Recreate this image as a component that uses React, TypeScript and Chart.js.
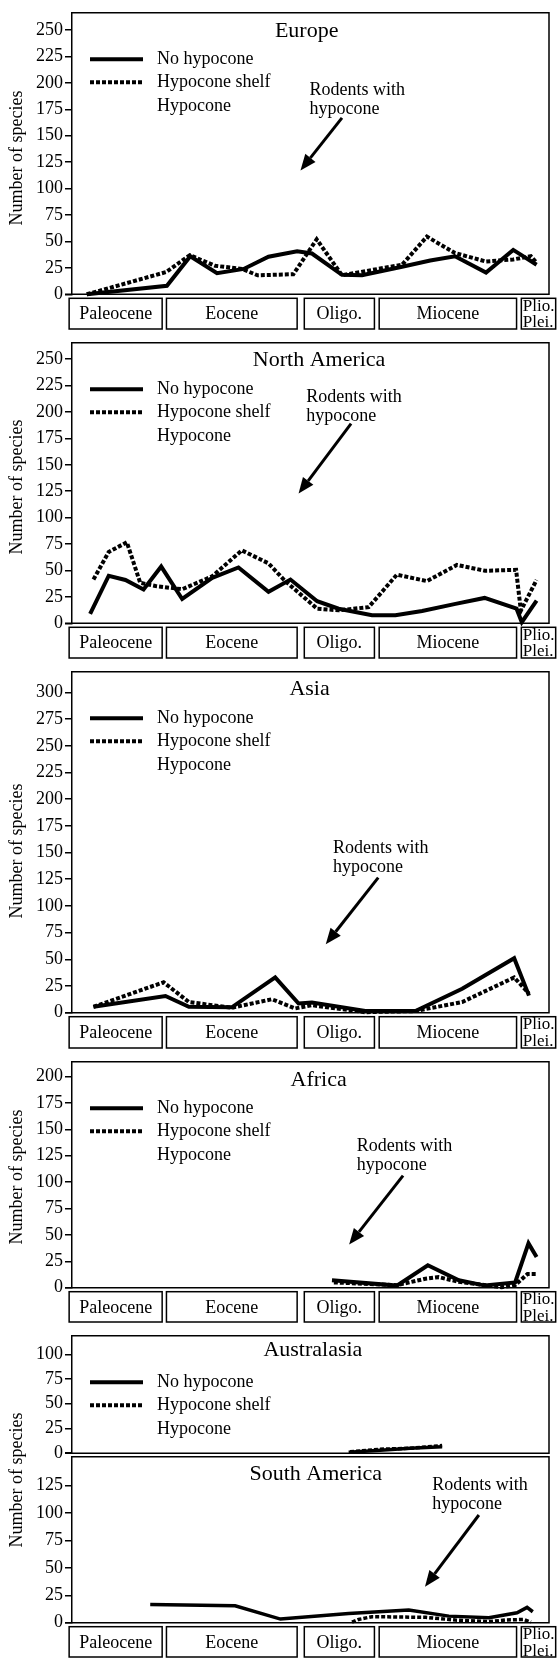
import React, { useEffect, useRef } from "react";
import { Chart, registerables } from "chart.js";

Chart.register(...registerables);

const FONT = '"Liberation Serif", "Times New Roman", serif';

// ---- shared labels ----
const LEGEND_LABELS = ["No hypocone", "Hypocone shelf", "Hypocone"];
const ANNOTATION_LINES = ["Rodents with", "hypocone"];
const EPOCH_NAMES = ["Paleocene", "Eocene", "Oligo.", "Miocene", "Plio.\nPlei."];
// epoch spans on the relative time axis (0 = left of plot, 100 = right)
const EPOCH_START = [-0.6, 19.8, 48.7, 64.4, 94.2];
const EPOCH_END = [18.9, 47.2, 63.4, 93.2, 101.4];

// ---- Europe ----
const EUROPE_TICKS = [0, 25, 50, 75, 100, 125, 150, 175, 200, 225, 250];
const EUROPE_NO_X = [3.1, 19.9, 24.8, 30.4, 36.0, 41.2, 47.2, 50.3, 56.6, 60.8, 69.2, 75.1, 80.3, 86.8, 92.5, 97.4];
const EUROPE_NO_Y = [0, 8, 36, 20, 24, 35.5, 40.8, 38.6, 18.4, 18, 26, 32, 36, 20.5, 42, 28];
const EUROPE_SHELF_X = [3.1, 19.7, 24.7, 30.0, 35.6, 38.9, 46.4, 51.3, 56.6, 69.2, 74.4, 80.3, 86.8, 92.5, 96.2, 97.4];
const EUROPE_SHELF_Y = [0, 21, 37, 27, 24, 18, 19, 52, 18, 28, 54.6, 39, 31, 33, 36, 30];

// ---- North America ----
const NA_TICKS = [0, 25, 50, 75, 100, 125, 150, 175, 200, 225, 250];
const NA_NO_X = [3.8, 7.7, 11.2, 15.0, 18.7, 23.1, 29.4, 34.9, 41.2, 45.8, 51.4, 55.9, 62.9, 67.8, 73.4, 80.4, 86.5, 93.2, 94.3, 97.4];
const NA_NO_Y = [9, 45, 41, 32, 53.7, 23, 43, 52.8, 29.8, 41.4, 20.9, 13.8, 7.7, 7.7, 11.7, 18.4, 24, 13.8, 1, 21.5];
const NA_SHELF_X = [4.5, 7.7, 11.5, 14.3, 17.5, 23.1, 29.4, 35.6, 41.2, 44.7, 51.4, 55.9, 62.2, 68.1, 74.4, 80.7, 86.6, 93.1, 94.1, 97.4];
const NA_SHELF_Y = [41.4, 67.5, 76.7, 38.3, 35.3, 32.2, 44.5, 69, 56.7, 39.9, 13.8, 12.3, 15.3, 46, 39.9, 55.2, 49.7, 50.6, 12, 41];

// ---- Asia ----
const ASIA_TICKS = [0, 25, 50, 75, 100, 125, 150, 175, 200, 225, 250, 275, 300];
const ASIA_NO_X = [4.5, 19.6, 24.5, 33.5, 42.6, 47.5, 50.3, 61.5, 72.0, 81.8, 92.7, 95.8];
const ASIA_NO_Y = [5.5, 15.6, 5.5, 5, 33, 8.6, 9.5, 1.5, 1.5, 22.4, 51, 16];
const ASIA_SHELF_X = [4.5, 19.2, 24.5, 33.5, 41.9, 46.8, 50.3, 61.4, 71.9, 81.8, 92.7, 95.8];
const ASIA_SHELF_Y = [5.5, 28.5, 10, 4.6, 12.6, 4, 7, 0.5, 1.5, 10, 33, 18];

// ---- Africa ----
const AFRICA_TICKS = [0, 25, 50, 75, 100, 125, 150, 175, 200];
const AFRICA_NO_X = [54.5, 68.1, 74.6, 81.1, 86.6, 92.9, 95.7, 97.4];
const AFRICA_NO_Y = [7, 2, 21.3, 7, 2, 5, 42, 29];
const AFRICA_SHELF_X = [54.9, 68.1, 74.1, 76.9, 81.1, 90.1, 92.9, 95.5, 97.4];
const AFRICA_SHELF_Y = [5, 2.4, 8.5, 10, 5.5, 0.5, 2.4, 13, 13];

// ---- Australasia ----
const AUS_TICKS = [0, 25, 50, 75, 100];
const AUS_NO_X = [58.0, 64.6, 70.9, 77.6];
const AUS_NO_Y = [1, 3, 5, 6.5];
const AUS_SHELF_X = [58.3, 64.6, 70.9, 77.6];
const AUS_SHELF_Y = [1.5, 4, 5, 7.7];

// ---- South America ----
const SA_TICKS = [0, 25, 50, 75, 100, 125];
const SA_NO_X = [16.4, 34.2, 43.7, 58.0, 70.6, 79.0, 87.4, 93.3, 95.4, 96.6];
const SA_NO_Y = [16.7, 15.5, 3.3, 8.5, 11.6, 6, 4.6, 9.1, 14, 10];
const SA_SHELF_X = [58.7, 60.1, 62.9, 74.1, 80.4, 87.4, 90.8, 94.7, 96.2];
const SA_SHELF_Y = [0.5, 3, 5.5, 4.9, 2.4, 1, 2.4, 3, 0.5];

type Annot = { tx: number; ty: number; fx: number; fy: number; ax: number; ay: number };
type Panel = {
  title: string;
  top: number;
  height: number;
  padTop: number;
  padBottom: number;
  yMax: number;
  ticks: number[];
  noX: number[];
  noY: number[];
  shelfX: number[];
  shelfY: number[];
  lw: number;
  legend: boolean;
  epochs: boolean;
  titleX: number;
  titleDy: number;
  yTitleAbs: number | null;
  annot: Annot | null;
};

const W = 559;
const PLOT_RIGHT_PAD = 10;

const PANELS: Panel[] = [
  {
    title: "Europe", top: 0, height: 330, padTop: 5, padBottom: 35.7, yMax: 266.3, ticks: EUROPE_TICKS,
    noX: EUROPE_NO_X, noY: EUROPE_NO_Y, shelfX: EUROPE_SHELF_X, shelfY: EUROPE_SHELF_Y, lw: 4,
    legend: true, epochs: true, titleX: 49.2, titleDy: 18, yTitleAbs: 158,
    annot: { tx: 49.8, ty: 192.7, fx: 56.6, fy: 166.9, ax: 47.9, ay: 117.2 },
  },
  {
    title: "North America", top: 330, height: 329, padTop: 5, padBottom: 35.7, yMax: 265.4, ticks: NA_TICKS,
    noX: NA_NO_X, noY: NA_NO_Y, shelfX: NA_SHELF_X, shelfY: NA_SHELF_Y, lw: 4,
    legend: true, epochs: true, titleX: 51.8, titleDy: 17, yTitleAbs: 487,
    annot: { tx: 49.1, ty: 214.1, fx: 58.5, fy: 189, ax: 47.5, ay: 122.7 },
  },
  {
    title: "Asia", top: 659, height: 390, padTop: 6, padBottom: 36.3, yMax: 319.3, ticks: ASIA_TICKS,
    noX: ASIA_NO_X, noY: ASIA_NO_Y, shelfX: ASIA_SHELF_X, shelfY: ASIA_SHELF_Y, lw: 4,
    legend: true, epochs: true, titleX: 49.8, titleDy: 17, yTitleAbs: 851,
    annot: { tx: 54.7, ty: 154, fx: 64.2, fy: 126.5, ax: 53.2, ay: 64 },
  },
  {
    title: "Africa", top: 1049, height: 274, padTop: 5, padBottom: 35.3, yMax: 214, ticks: AFRICA_TICKS,
    noX: AFRICA_NO_X, noY: AFRICA_NO_Y, shelfX: AFRICA_SHELF_X, shelfY: AFRICA_SHELF_Y, lw: 4,
    legend: true, epochs: true, titleX: 51.7, titleDy: 18, yTitleAbs: 1177,
    annot: { tx: 59.7, ty: 133.7, fx: 69.4, fy: 106.2, ax: 58.1, ay: 40.9 },
  },
  {
    title: "Australasia", top: 1323, height: 143, padTop: 5, padBottom: 9.3, yMax: 118.7, ticks: AUS_TICKS,
    noX: AUS_NO_X, noY: AUS_NO_Y, shelfX: AUS_SHELF_X, shelfY: AUS_SHELF_Y, lw: 3.5,
    legend: true, epochs: false, titleX: 50.5, titleDy: 14, yTitleAbs: null, annot: null,
  },
  {
    title: "South America", top: 1395, height: 263, padTop: 61.7, padBottom: 35.3, yMax: 151.5, ticks: SA_TICKS,
    noX: SA_NO_X, noY: SA_NO_Y, shelfX: SA_SHELF_X, shelfY: SA_SHELF_Y, lw: 3.5,
    legend: false, epochs: true, titleX: 51.1, titleDy: 18, yTitleAbs: 1480,
    annot: { tx: 75.5, ty: 125, fx: 85.3, fy: 98.3, ax: 74, ay: 32.8 },
  },
];

function makeDecor(p: Panel) {
  return {
    id: "decor_" + p.title.replace(/\s/g, ""),
    afterDatasetsDraw(chart: any) {
      const { ctx, chartArea: a, scales } = chart;
      const xs = scales.x;
      const ys = scales.y;
      const ch = chart.height;
      ctx.save();
      ctx.strokeStyle = "#000";
      ctx.fillStyle = "#000";
      ctx.lineWidth = 1.5;
      // plot frame (top, right, bottom)
      ctx.beginPath();
      ctx.moveTo(a.left, a.top);
      ctx.lineTo(a.right, a.top);
      ctx.lineTo(a.right, a.bottom);
      ctx.lineTo(a.left - 7, a.bottom);
      ctx.stroke();

      // title
      ctx.textBaseline = "middle";
      ctx.textAlign = "center";
      ctx.font = `22px ${FONT}`;
      ctx.fillText(p.title, xs.getPixelForValue(p.titleX), a.top + p.titleDy);

      // legend
      if (p.legend) {
        const rows = [46.5, 69.5, 93];
        ctx.font = `18px ${FONT}`;
        ctx.textAlign = "left";
        LEGEND_LABELS.forEach((lab, i) => {
          const yy = a.top + rows[i];
          if (i < 2) {
            ctx.save();
            ctx.lineWidth = 4;
            ctx.lineCap = "butt";
            ctx.setLineDash(i === 0 ? [] : [4, 2]);
            ctx.beginPath();
            ctx.moveTo(90, yy);
            ctx.lineTo(143, yy);
            ctx.stroke();
            ctx.restore();
          }
          ctx.fillText(lab, 157, yy);
        });
      }

      // annotation with arrow
      if (p.annot) {
        const an = p.annot;
        ctx.font = `18px ${FONT}`;
        ctx.textAlign = "left";
        const tx = xs.getPixelForValue(an.tx);
        const ty = ys.getPixelForValue(an.ty);
        ctx.fillText(ANNOTATION_LINES[0], tx, ty);
        ctx.fillText(ANNOTATION_LINES[1], tx, ty + 19);
        const fx = xs.getPixelForValue(an.fx);
        const fy = ys.getPixelForValue(an.fy);
        const hx = xs.getPixelForValue(an.ax);
        const hy = ys.getPixelForValue(an.ay);
        const dx = hx - fx;
        const dy = hy - fy;
        const len = Math.hypot(dx, dy);
        const ux = dx / len;
        const uy = dy / len;
        const headL = 16;
        const headW = 6.5;
        const bx = hx - ux * headL;
        const by = hy - uy * headL;
        ctx.lineWidth = 3;
        ctx.beginPath();
        ctx.moveTo(fx, fy);
        ctx.lineTo(bx, by);
        ctx.stroke();
        ctx.beginPath();
        ctx.moveTo(hx, hy);
        ctx.lineTo(bx - uy * headW, by + ux * headW);
        ctx.lineTo(bx + uy * headW, by - ux * headW);
        ctx.closePath();
        ctx.fill();
      }

      // epoch boxes
      if (p.epochs) {
        const y0 = a.bottom + 4;
        const y1 = ch - 1;
        ctx.lineWidth = 1.5;
        EPOCH_NAMES.forEach((name, i) => {
          const x0 = xs.getPixelForValue(EPOCH_START[i]);
          const x1 = xs.getPixelForValue(EPOCH_END[i]);
          ctx.strokeRect(x0, y0, x1 - x0, y1 - y0);
          const parts = name.split("\n");
          if (parts.length > 1) {
            ctx.save();
            ctx.beginPath();
            ctx.rect(x0, y0, W - x0, y1 - y0 + 1);
            ctx.clip();
            ctx.font = `17px ${FONT}`;
            ctx.textAlign = "left";
            ctx.fillText(parts[0], x0 + 1.5, y0 + 8);
            ctx.fillText(parts[1], x0 + 1.5, y0 + 24.5);
            ctx.restore();
          } else {
            ctx.font = `18px ${FONT}`;
            ctx.textAlign = "center";
            ctx.fillText(name, (x0 + x1) / 2, (y0 + y1) / 2 + 1);
          }
        });
      }

      // y-axis title
      if (p.yTitleAbs !== null) {
        ctx.save();
        ctx.translate(17, p.yTitleAbs - p.top);
        ctx.rotate(-Math.PI / 2);
        ctx.font = `18px ${FONT}`;
        ctx.textAlign = "center";
        ctx.textBaseline = "middle";
        ctx.fillText("Number of species", 0, 0);
        ctx.restore();
      }
      ctx.restore();
    },
  };
}

function buildConfig(p: Panel): any {
  const mk = (xs: number[], ys: number[]) => xs.map((x, i) => ({ x, y: ys[i] }));
  return {
    type: "line",
    data: {
      datasets: [
        {
          label: LEGEND_LABELS[0],
          data: mk(p.noX, p.noY),
          borderColor: "#000",
          borderWidth: p.lw,
          pointRadius: 0,
          tension: 0,
          fill: false,
          clip: false,
          borderJoinStyle: "miter",
        },
        {
          label: LEGEND_LABELS[1],
          data: mk(p.shelfX, p.shelfY),
          borderColor: "#000",
          borderWidth: p.lw,
          borderDash: [4, 2],
          borderCapStyle: "butt",
          pointRadius: 0,
          tension: 0,
          fill: false,
          clip: false,
          borderJoinStyle: "miter",
        },
      ],
    },
    options: {
      animation: false,
      responsive: false,
      maintainAspectRatio: false,
      devicePixelRatio: 1,
      events: [],
      layout: { padding: { top: p.padTop, bottom: p.padBottom, left: 0, right: PLOT_RIGHT_PAD } },
      plugins: { legend: { display: false }, tooltip: { enabled: false }, title: { display: false } },
      scales: {
        x: { type: "linear", min: 0, max: 100, display: false },
        y: {
          type: "linear",
          min: 0,
          max: p.yMax,
          afterBuildTicks: (s: any) => {
            s.ticks = p.ticks.map((v) => ({ value: v }));
          },
          afterFit: (s: any) => {
            s.width = 72;
          },
          ticks: {
            color: "#000",
            font: { family: FONT, size: 18 },
            padding: 2,
            autoSkip: false,
            callback: (v: any) => String(v),
          },
          grid: { drawOnChartArea: false, drawTicks: true, tickLength: 7, color: "#000", lineWidth: 1.5 },
          border: { display: true, color: "#000", width: 1.5 },
        },
      },
    },
    plugins: [makeDecor(p)],
  };
}

function PanelChart({ p }: { p: Panel }) {
  const ref = useRef<HTMLCanvasElement>(null);
  useEffect(() => {
    let chart: any = null;
    let cancelled = false;
    const build = () => {
      if (cancelled || !ref.current) return;
      chart = new Chart(ref.current, buildConfig(p));
    };
    const fonts: any = (document as any).fonts;
    if (fonts && fonts.load) {
      Promise.all([fonts.load(`18px "Liberation Serif"`), fonts.load(`22px "Liberation Serif"`)]).then(build, build);
    } else {
      build();
    }
    return () => {
      cancelled = true;
      if (chart) chart.destroy();
    };
  }, [p]);
  return (
    <canvas
      ref={ref}
      width={W}
      height={p.height}
      style={{ position: "absolute", left: 0, top: p.top, width: W, height: p.height }}
    />
  );
}

export default function App() {
  return (
    <div
      style={{
        position: "absolute",
        left: 0,
        top: 0,
        width: W,
        height: 1658,
        overflow: "hidden",
        background: "#fff",
      }}
    >
      {PANELS.map((p) => (
        <PanelChart key={p.title} p={p} />
      ))}
    </div>
  );
}
